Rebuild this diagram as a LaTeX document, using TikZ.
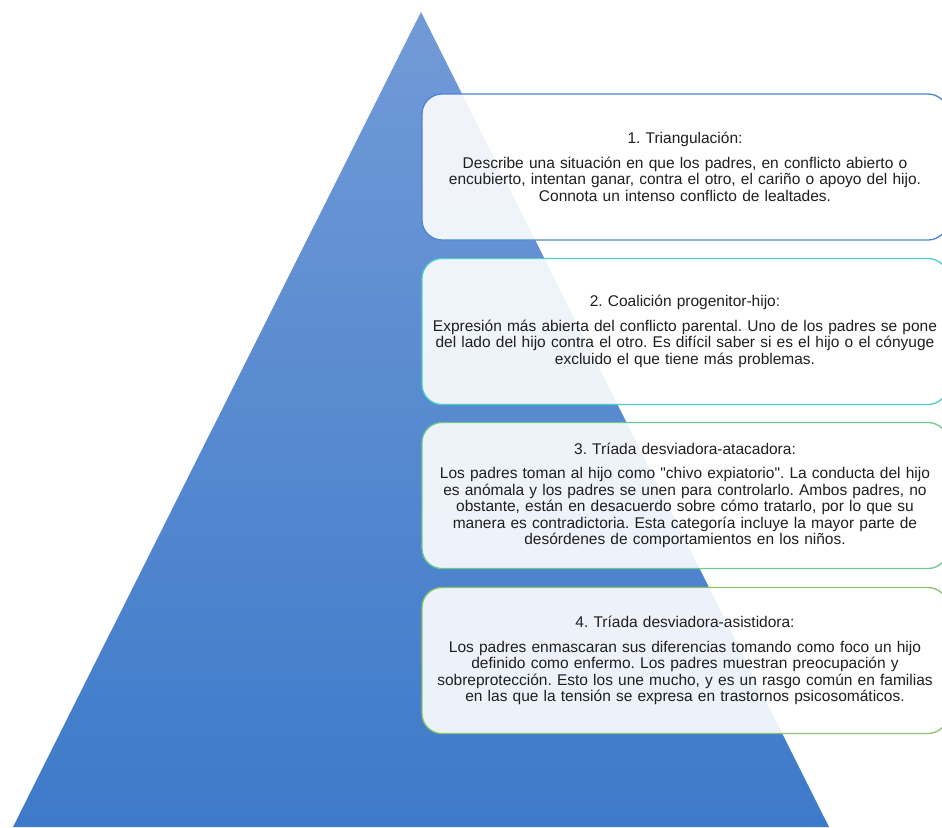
\documentclass[tikz,border=0pt]{standalone}
\usepackage{fontspec}
\setmainfont{Liberation Sans}[Ligatures=TeXOff]
\frenchspacing
\definecolor{pyrtop}{RGB}{114,154,215}
\definecolor{pyrbot}{RGB}{61,122,201}
\definecolor{lineA}{RGB}{74,134,216}
\definecolor{lineB}{RGB}{78,205,198}
\definecolor{lineC}{RGB}{108,200,140}
\definecolor{lineD}{RGB}{140,195,108}
\begin{document}
\begin{tikzpicture}[x=1pt, y=-1pt,
    level/.style={draw=#1, line width=1.3pt, fill=white, fill opacity=0.9, text opacity=1,
      rounded corners=20pt, minimum width=526pt, minimum height=146pt, text width=526pt,
      inner sep=0pt, align=center, text=black!88, font=\fontsize{15.5}{16.5}\selectfont}]
    \clip (0,0) rectangle (942,827);
    \coordinate (apex) at (421,12);
    \coordinate (baseL) at (13,827);
    \coordinate (baseR) at (829,827);
    \shade[top color=pyrtop, bottom color=pyrbot] (apex) -- (baseR) -- (baseL) -- cycle;
    \node[level=lineA] (triang) at (685,167) {1. Triangulación:\\[8pt]
      Describe una situación en que los padres, en conflicto abierto o\\
      encubierto, intentan ganar, contra el otro, el cariño o apoyo del hijo.\\
      Connota un intenso conflicto de lealtades.};
    \node[level=lineB] (coalic) at (685,331.5) {2. Coalición progenitor-hijo:\\[8pt]
      Expresión más abierta del conflicto parental. Uno de los padres se pone\\
      del lado del hijo contra el otro. Es difícil saber si es el hijo o el cónyuge\\
      excluido el que tiene más problemas.};
    \node[level=lineC] (atacad) at (685,495.5) {3. Tríada desviadora-atacadora:\\[8pt]
      Los padres toman al hijo como "chivo expiatorio". La conducta del hijo\\
      es anómala y los padres se unen para controlarlo. Ambos padres, no\\
      obstante, están en desacuerdo sobre cómo tratarlo, por lo que su\\
      manera es contradictoria. Esta categoría incluye la mayor parte de\\
      desórdenes de comportamientos en los niños.};
    \node[level=lineD] (asist) at (685,660.5) {4. Tríada desviadora-asistidora:\\[8pt]
      Los padres enmascaran sus diferencias tomando como foco un hijo\\
      definido como enfermo. Los padres muestran preocupación y\\
      sobreprotección. Esto los une mucho, y es un rasgo común en familias\\
      en las que la tensión se expresa en trastornos psicosomáticos.};
\end{tikzpicture}
\end{document}
